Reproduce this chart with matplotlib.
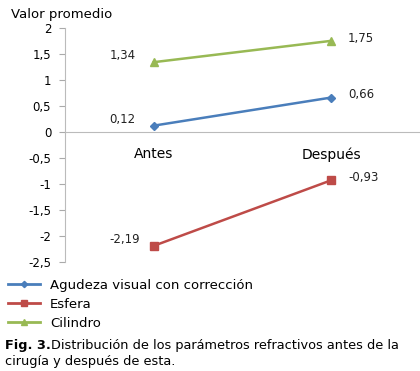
import matplotlib
matplotlib.use("Agg")
import matplotlib.pyplot as plt
from matplotlib.lines import Line2D

# data
categorias = ["Antes", "Después"]
agudeza = [0.12, 0.66]
esfera = [-2.19, -0.93]
cilindro = [1.34, 1.75]
nombres = ["Agudeza visual con corrección", "Esfera", "Cilindro"]
yticks = [2, 1.5, 1, 0.5, 0, -0.5, -1, -1.5, -2, -2.5]

plt.rcParams['font.family'] = ['DejaVu Sans']

fig = plt.figure(figsize=(4.2, 3.71), dpi=100)
ax = fig.add_axes([0.155, 0.294, 0.845, 0.631])

x = list(range(len(categorias)))
series = [
    (agudeza, "#4A7EBB", "D", 4),
    (esfera, "#BE4B48", "s", 5.5),
    (cilindro, "#98B954", "^", 6),
]
for vals, col, mk, ms in series:
    ax.plot(x, vals, color=col, lw=1.8, marker=mk, ms=ms,
            markeredgecolor=col, markerfacecolor=col)

def fmt(v):
    return ("%.2f" % v).replace(".", ",")

# data labels
for vals, col, mk, ms in series:
    ax.annotate(fmt(vals[0]), (x[0], vals[0]), xytext=(-32, 4.5),
                textcoords="offset points", fontsize=8.5, color="#222222",
                ha="left", va="center")
    ax.annotate(fmt(vals[1]), (x[1], vals[1]), xytext=(12, 2),
                textcoords="offset points", fontsize=8.5, color="#222222",
                ha="left", va="center")

ax.set_xlim(-0.5, 1.5)
ax.set_ylim(-2.5, 2)
ax.set_yticks(yticks)
ax.set_yticklabels([("%g" % t).replace(".", ",") for t in yticks], fontsize=8.5)
ax.tick_params(axis="y", length=4, color="#aaaaaa", pad=6)
ax.set_xticks(x)
ax.set_xticklabels(categorias, fontsize=8.5)
ax.tick_params(axis="x", length=0, pad=11)

for s in ["top", "right"]:
    ax.spines[s].set_visible(False)
ax.spines["bottom"].set_position(("data", 0))
ax.spines["bottom"].set_color("#bbbbbb")
ax.spines["left"].set_color("#bbbbbb")

fig.text(0.026, 0.96, "Valor promedio", fontsize=9.5, ha="left", va="center")

handles = [Line2D([0], [0], color=c, lw=2, marker=m, ms=s * 0.8,
                  markerfacecolor=c, markeredgecolor=c)
           for _, c, m, s in series]
fig.legend(handles, nombres, loc="upper left", bbox_to_anchor=(0.0, 0.27),
           frameon=False, fontsize=9.5, handlelength=2.4, handletextpad=0.8,
           labelspacing=0.45, borderaxespad=0.2)

# caption with bold prefix
fig.canvas.draw()
r = fig.canvas.get_renderer()
t1 = fig.text(0.012, 0.07, "Fig. 3.", fontsize=9.3, fontweight="bold",
              ha="left", va="center")
bb = t1.get_window_extent(renderer=r)
fig.text(bb.x1 / fig.bbox.width, 0.07,
         "Distribución de los parámetros refractivos antes de la",
         fontsize=9.3, ha="left", va="center")
fig.text(0.012, 0.025, "cirugía y después de esta.", fontsize=9.3,
         ha="left", va="center")

fig.savefig("out.png", dpi=100)
